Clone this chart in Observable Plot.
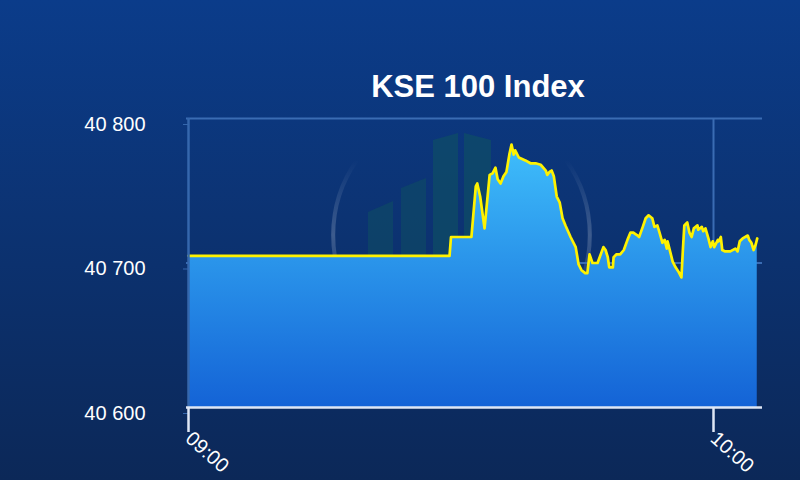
<!DOCTYPE html>
<html>
<head>
<meta charset="utf-8">
<script src="https://cdn.jsdelivr.net/npm/d3@7"></script>
<script src="https://cdn.jsdelivr.net/npm/@observablehq/plot@0.6"></script>
<style>
  html, body { margin: 0; padding: 0; }
  body { width: 800px; height: 480px; overflow: hidden;
         background: linear-gradient(180deg, #0b3c8a 0%, #0c3373 45%, #0c2858 100%); }
  #wrap { position: relative; width: 800px; height: 480px; }
  #title { position: absolute; left: 191px; width: 574px; top: 71px; text-align: center;
           font: bold 31px "Liberation Sans", Arial, sans-serif; line-height: 31px; color: #ffffff; }
  #chart { position: absolute; left: 0; top: 0; }
</style>
</head>
<body>
<div id="wrap">
  <div id="chart"></div>
  <div id="title"></div>
</div>
<script>
// ---- data ----
const chartTitle = "KSE 100 Index";
const times = [
  "09:00:00","09:29:50","09:30:00","09:32:20","09:32:50","09:33:00","09:33:20","09:33:50",
  "09:34:25","09:34:45","09:35:05","09:35:20","09:35:40","09:36:00","09:36:20","09:36:40",
  "09:36:55","09:37:10","09:37:20","09:37:45","09:38:30","09:39:05","09:39:40","09:40:15",
  "09:40:50","09:41:00","09:41:15","09:41:30","09:41:45","09:42:05","09:42:25","09:42:45",
  "09:43:05","09:43:40","09:44:15","09:44:35","09:44:55","09:45:20","09:45:35","09:45:50",
  "09:46:10","09:46:45","09:47:25","09:47:40","09:47:55","09:48:05","09:48:30","09:48:35",
  "09:48:55","09:49:20","09:49:45","09:50:10","09:50:30","09:50:50","09:51:20","09:51:30",
  "09:51:55","09:52:15","09:52:35","09:53:00","09:53:15","09:53:35","09:53:50","09:54:10",
  "09:54:25","09:54:40","09:54:45","09:55:05","09:55:20","09:55:40","09:56:00","09:56:20",
  "09:56:30","09:56:40","09:57:00","09:57:15","09:57:30","09:57:45","09:58:10","09:58:15",
  "09:58:40","09:58:50","09:59:05","09:59:25","09:59:40","09:59:55","10:00:05","10:00:30",
  "10:00:35","10:00:50","10:01:00","10:01:20","10:01:55","10:02:30","10:02:45","10:03:00",
  "10:03:20","10:03:55","10:04:05","10:04:20","10:04:35","10:04:50","10:05:00"
];
const values = [
  40705,40705,40718,40718,40753,40755,40746,40724,
  40761,40762,40766,40758,40755,40760,40763,40775,
  40782,40775,40778,40773,40771,40769,40769,40768,
  40764,40761,40763,40764,40760,40746,40742,40731,
  40726,40718,40711,40699,40695,40693,40693,40706,
  40700,40700,40711,40709,40704,40697,40697,40704,
  40706,40706,40709,40716,40721,40721,40719,40718,
  40725,40731,40733,40731,40725,40726,40721,40714,
  40716,40710,40715,40707,40701,40697,40694,40690,
  40709,40726,40728,40721,40718,40724,40726,40723,
  40725,40722,40724,40717,40711,40715,40711,40716,
  40715,40718,40709,40708,40708,40710,40708,40715,
  40717,40719,40716,40714,40709,40713,40717
];
const yTicks = [40600, 40700, 40800];
const yTickLabels = ["40 600", "40 700", "40 800"];
const xTicks = ["09:00", "10:00"];
const xEnd = "10:05:36";

// ---- build ----
const day = "2024-01-01";
const parseT = t => new Date(`${day}T${t.length === 5 ? t + ":00" : t}Z`);
const data = times.map((t, i) => ({t: parseT(t), v: values[i]}));
const xTickDates = xTicks.map(parseT);
const xDomain = [parseT(xTicks[0]), parseT(xEnd)];
const yLabel = new Map(yTicks.map((d, i) => [d, yTickLabels[i]]));
const gridColor = "#3a6cb3";
const font = "'Liberation Sans', Arial, sans-serif";

document.getElementById("title").textContent = chartTitle;

const plot = Plot.plot({
  width: 800,
  height: 480,
  marginLeft: 188,
  marginRight: 38,
  marginTop: 118,
  marginBottom: 73,
  style: {background: "transparent", color: "#ffffff", fontFamily: font, overflow: "visible"},
  x: {type: "utc", domain: xDomain, axis: null, label: null},
  y: {domain: [yTicks[0], yTicks[yTicks.length - 1]], axis: null, label: null},
  marks: [
    // grid behind the area
    Plot.ruleY(yTicks.slice(1), {stroke: gridColor, strokeWidth: 2, insetLeft: -2}),
    Plot.ruleX(xTickDates.slice(1), {stroke: gridColor, strokeWidth: 2}),
    // area + line
    Plot.areaY(data, {x: "t", y1: yTicks[0], y2: "v", fill: "url(#kseAreaGrad)"}),
    Plot.lineY(data, {x: "t", y: "v", stroke: "#fff200", strokeWidth: 2.7, strokeLinejoin: "round"}),
    // y axis line
    Plot.ruleX([xDomain[0]], {stroke: "#3567ad", strokeWidth: 2.5}),
    // y axis ticks + labels
    Plot.axisY({
      ticks: yTicks, tickSize: 5, tickPadding: 38, tickFormat: d => yLabel.get(d),
      stroke: "#3567ad", fill: "#ffffff", fontSize: 20, dy: 6, label: null
    }),
    // x axis line
    Plot.ruleY([yTicks[0]], {stroke: "#dfe7f5", strokeWidth: 2.5, insetLeft: -2}),
    // x axis ticks + labels
    Plot.axisX({
      ticks: xTickDates, tickSize: 25, tickPadding: 3, tickRotate: 42,
      tickFormat: d3.utcFormat("%H:%M"), stroke: "#dfe7f5", strokeWidth: 2.5,
      fill: "#ffffff", fontSize: 20, label: null
    })
  ]
});

// gradient defs + faint watermark decoration
const NS = "http://www.w3.org/2000/svg";
const defs = document.createElementNS(NS, "defs");
defs.innerHTML = `
  <linearGradient id="kseAreaGrad" x1="0" y1="0" x2="0" y2="1">
    <stop offset="0%" stop-color="#3fbefb"/>
    <stop offset="45%" stop-color="#2a94ea"/>
    <stop offset="100%" stop-color="#1463d6"/>
  </linearGradient>
  <linearGradient id="kseArcGrad" x1="0" y1="0" x2="0" y2="1">
    <stop offset="0%" stop-color="#ffffff" stop-opacity="0"/>
    <stop offset="50%" stop-color="#ffffff" stop-opacity="0.2"/>
    <stop offset="100%" stop-color="#ffffff" stop-opacity="0"/>
  </linearGradient>`;
const wm = document.createElementNS(NS, "g");
wm.setAttribute("aria-hidden", "true");
wm.innerHTML = `
  <polygon points="368,212 393,201 393,262 368,262" fill="#0f4f62" opacity="0.55"/>
  <polygon points="401,188 426,178 426,262 401,262" fill="#0f4f62" opacity="0.55"/>
  <polygon points="433,140 458,133 458,262 433,262" fill="#0f5163" opacity="0.6"/>
  <polygon points="464,133 491,140 491,262 464,262" fill="#0f5163" opacity="0.6"/>
  <path d="M 357 160 A 130 130 0 0 0 357 310" fill="none" stroke="url(#kseArcGrad)" stroke-width="4"/>
  <path d="M 566 160 A 130 130 0 0 1 566 310" fill="none" stroke="url(#kseArcGrad)" stroke-width="4"/>`;
plot.insertBefore(wm, plot.firstChild);
plot.insertBefore(defs, plot.firstChild);
document.getElementById("chart").appendChild(plot);
</script>
</body>
</html>
